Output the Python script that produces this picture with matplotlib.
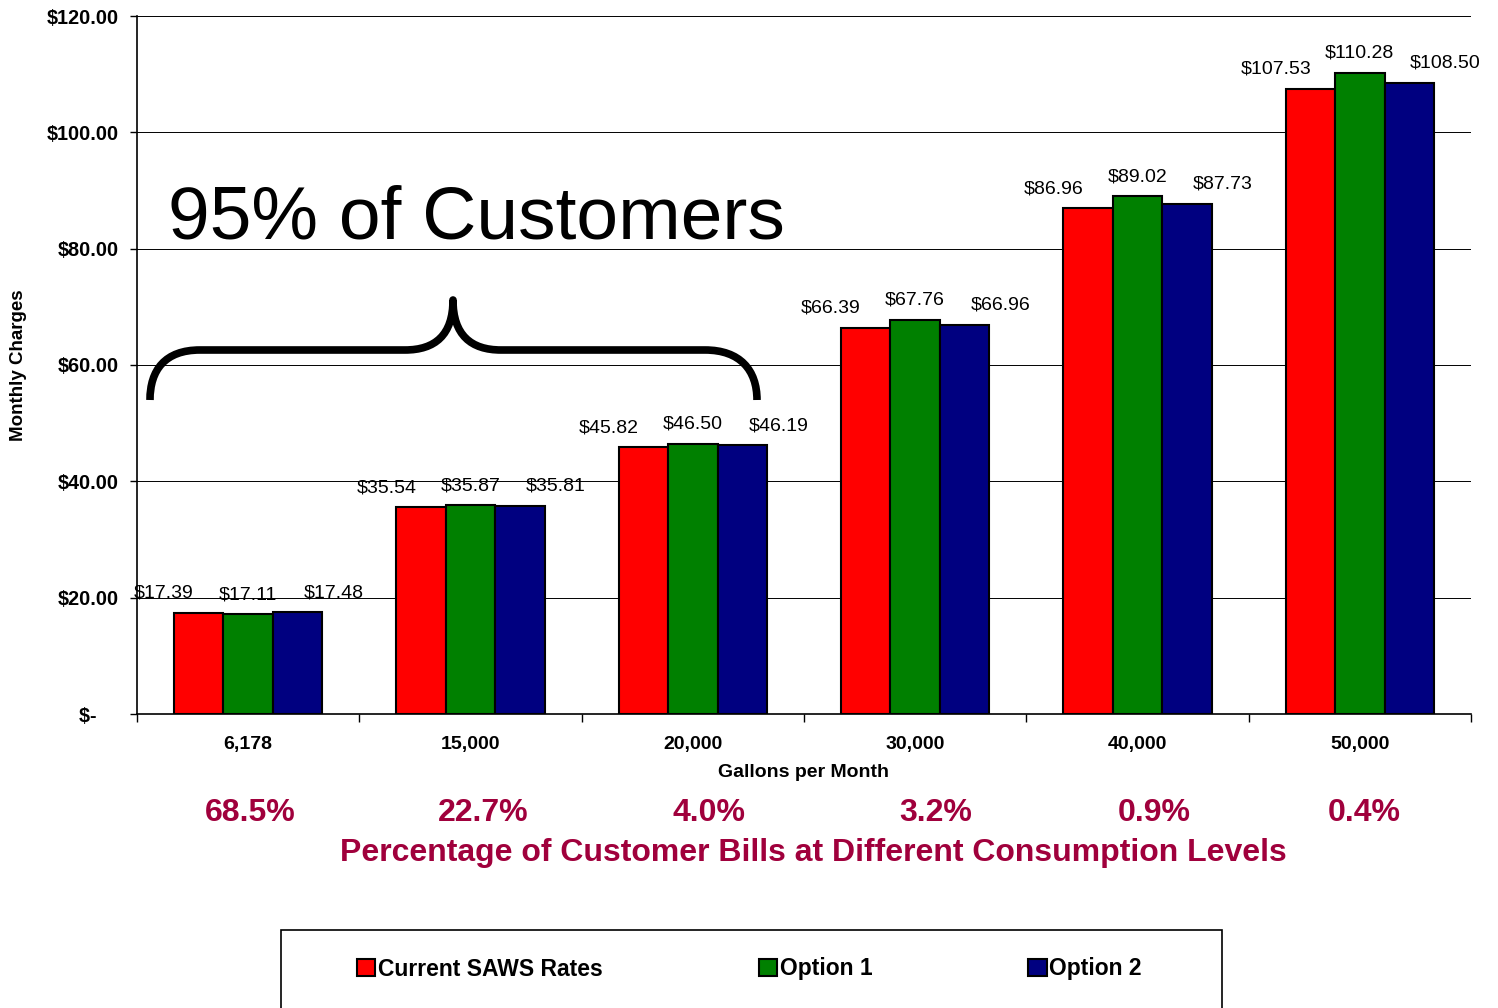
import matplotlib
matplotlib.use('Agg')
import matplotlib.pyplot as plt
import numpy as np
from matplotlib.path import Path
from matplotlib.patches import PathPatch, Rectangle

plt.rcParams['font.family'] = ['Liberation Sans', 'DejaVu Sans']

# data
gallons = ['6,178', '15,000', '20,000', '30,000', '40,000', '50,000']
current_saws = [17.39, 35.54, 45.82, 66.39, 86.96, 107.53]
option_1 = [17.11, 35.87, 46.50, 67.76, 89.02, 110.28]
option_2 = [17.48, 35.81, 46.19, 66.96, 87.73, 108.50]
pct_bills = ['68.5%', '22.7%', '4.0%', '3.2%', '0.9%', '0.4%']
series_names = ['Current SAWS Rates', 'Option 1', 'Option 2']
colors = ['#FF0000', '#008000', '#000080']

W, H = 1498, 1008
fig = plt.figure(figsize=(W / 100, H / 100), dpi=100)
ax = fig.add_axes([137 / W, 1 - 714 / H, (1471 - 137) / W, (714 - 16) / H])

x = np.arange(len(gallons))
bw = 0.222
series = [current_saws, option_1, option_2]
label_dx = [-25, 0, 26]  # points, labels staggered like the original
for i, (vals, name, col) in enumerate(zip(series, series_names, colors)):
    pos = x + (i - 1) * bw
    ax.bar(pos, vals, width=bw, color=col, edgecolor='black', linewidth=1.5,
           label=name, zorder=3)
    for px, v in zip(pos, vals):
        ax.annotate(f'${v:.2f}', (px, v), xytext=(label_dx[i], 8),
                    textcoords='offset points', ha='center', va='bottom',
                    fontsize=14)

ax.set_xlim(-0.5, len(gallons) - 0.5)
ax.set_ylim(0, 120)
yt = np.arange(0, 121, 20)
ax.set_yticks(yt)
ax.set_yticklabels(['$-    '] + [f'${v:.2f}' for v in yt[1:]],
                   fontweight='bold', fontsize=14.3)
ax.tick_params(axis='y', length=5, width=1, pad=8)
ax.yaxis.grid(True, color='black', linewidth=0.7, zorder=0)
ax.set_axisbelow(True)

ax.set_xticks(x)
ax.set_xticklabels(gallons, fontweight='bold', fontsize=14)
ax.tick_params(axis='x', which='major', length=0, pad=16)
ax.set_xticks(np.arange(-0.5, len(gallons), 1), minor=True)
ax.tick_params(axis='x', which='minor', length=6, width=1, direction='out')

for s in ['top', 'right']:
    ax.spines[s].set_visible(False)
for s in ['left', 'bottom']:
    ax.spines[s].set_linewidth(1.2)

ax.set_ylabel('Monthly Charges', fontweight='bold', fontsize=13.5, labelpad=14)
ax.set_xlabel('Gallons per Month', fontweight='bold', fontsize=14, labelpad=8)

# big annotation
ax.text(-0.36, 81.8, '95% of Customers', fontsize=54, va='baseline', ha='left')

# brace (drawn in pixel space of the figure)
pts = [(150, 400), (150, 370), (165, 350), (200, 350),
       (405, 350),
       (435, 350), (453, 335), (453, 300),
       (453, 335), (471, 350), (501, 350),
       (705, 350),
       (740, 350), (757, 370), (757, 400)]
codes = [Path.MOVETO, Path.CURVE4, Path.CURVE4, Path.CURVE4,
         Path.LINETO,
         Path.CURVE4, Path.CURVE4, Path.CURVE4,
         Path.CURVE4, Path.CURVE4, Path.CURVE4,
         Path.LINETO,
         Path.CURVE4, Path.CURVE4, Path.CURVE4]
verts = [(px / W, 1 - py / H) for px, py in pts]
fig.patches.append(PathPatch(Path(verts, codes), transform=fig.transFigure,
                             fill=False, lw=5.5, edgecolor='black',
                             capstyle='butt', joinstyle='round'))

# percentage of bills per category
pct_dx = [2, 13, 16, 21, 17, 4]
for xi, p, d in zip(x, pct_bills, pct_dx):
    ax.annotate(p, (xi, 0), xycoords=('data', 'axes fraction'),
                xytext=(d * 0.72, -99 * 0.72), textcoords='offset points',
                ha='center', va='center', fontsize=23, fontweight='bold',
                color='#A0003C')
fig.text(813 / W, 1 - 853 / H,
         'Percentage of Customer Bills at Different Consumption Levels',
         ha='center', va='center', fontsize=23, fontweight='bold',
         color='#A0003C')

# legend
fig.patches.append(Rectangle((281 / W, -0.01), (1222 - 281) / W, 0.01 + 1 - 930 / H,
                             transform=fig.transFigure, fill=False,
                             edgecolor='black', lw=1.2))
fig.legend(loc='center left', bbox_to_anchor=(357 / W, 1 - 969 / H), ncol=3,
           frameon=False, prop={'weight': 'bold', 'size': 16.5},
           handlelength=0.8, handleheight=0.8, handletextpad=0.12,
           columnspacing=6.8, borderpad=0, borderaxespad=0)

fig.savefig('out.png', dpi=100)
